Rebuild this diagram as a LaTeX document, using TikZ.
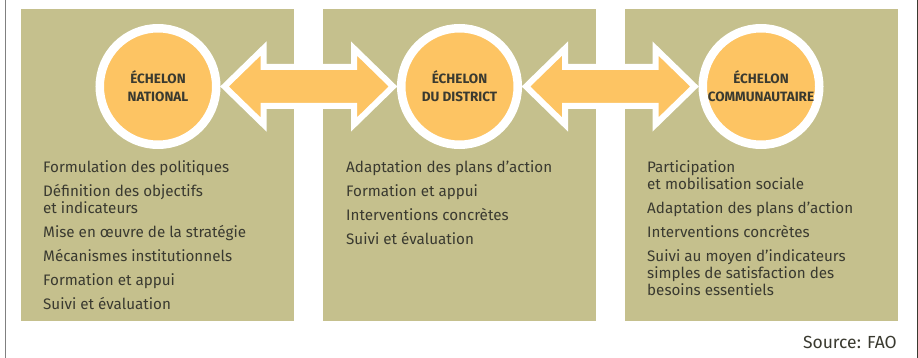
\documentclass[tikz,border=0pt]{standalone}
\usepackage{fontspec}
\setmainfont{Fira Sans}
\usetikzlibrary{positioning, calc}
\definecolor{panelkhaki}{RGB}{197,192,141}
\definecolor{echorange}{RGB}{253,196,99}
\definecolor{inkgray}{RGB}{58,58,48}
\definecolor{framegray}{RGB}{128,128,128}

% double arrow between two echelons
\newcommand{\echarrow}[2]{%
  \draw[arr] let \p1=(#1.east), \p2=(#2.west) in
    (\x1+4,\y1) -- (\x1+43,\y1+38) -- (\x1+43,\y1+19.5) -- (\x2-43,\y1+19.5)
    -- (\x2-43,\y1+38) -- (\x2-4,\y1) -- (\x2-43,\y1-38) -- (\x2-43,\y1-19.5)
    -- (\x1+43,\y1-19.5) -- (\x1+43,\y1-38) -- cycle;}

\begin{document}
\begin{tikzpicture}[x=1pt, y=-1pt, font=\fontsize{15.2}{17}\selectfont,
       panel/.style={fill=panelkhaki, draw=none},
       lvl/.style={circle, fill=echorange, draw=white, line width=8.5pt,
                   minimum size=116.5pt, inner sep=0pt, text=inkgray, align=center,
                   font=\fontseries{sb}\fontsize{13.5}{18}\selectfont},
       arr/.style={fill=echorange, draw=white, line width=6pt},
       tasks/.style={anchor=north west, align=left, inner sep=0pt, text=inkgray}]
  \useasboundingbox (0,0) rectangle (918,358);
  \draw[framegray, line width=1.5pt] (5.5,0) -- (5.5,358);
  \draw[inkgray, line width=1.2pt] (917.4,0) -- (917.4,358);
  % panels
  \fill[panel] (21,9) rectangle (294,321);
  \fill[panel] (323,9) rectangle (596,321);
  \fill[panel] (625,9) rectangle (898,321);
  % echelons
  \node[lvl] (national) at (158,86.5) {ÉCHELON\\NATIONAL};
  \node[lvl] (district) at (459.5,86.5) {ÉCHELON\\DU DISTRICT};
  \node[lvl] (communal) at (761,86.5) {ÉCHELON\\COMMUNAUTAIRE};
  \echarrow{national}{district}
  \echarrow{district}{communal}
  % tasks
  \node[tasks] (natlist) at (43,160) {Formulation des politiques\\[7pt]
    Définition des objectifs\\et indicateurs\\[7pt]
    Mise en œuvre de la stratégie\\[7pt]
    Mécanismes institutionnels\\[7pt]
    Formation et appui\\[7pt]
    Suivi et évaluation};
  \node[tasks] (distlist) at (346,160) {Adaptation des plans d’action\\[7pt]
    Formation et appui\\[7pt]
    Interventions concrètes\\[7pt]
    Suivi et évaluation};
  \node[tasks] (commlist) at (647,160) {Participation\\et mobilisation sociale\\[7pt]
    Adaptation des plans d’action\\[7pt]
    Interventions concrètes\\[7pt]
    Suivi au moyen d’indicateurs\\simples de satisfaction des\\besoins essentiels};
  \node[anchor=south east, inner sep=0pt, text=inkgray, font=\fontsize{17.5}{20}\selectfont]
    (source) at (897,349) {Source: FAO};
\end{tikzpicture}
\end{document}
